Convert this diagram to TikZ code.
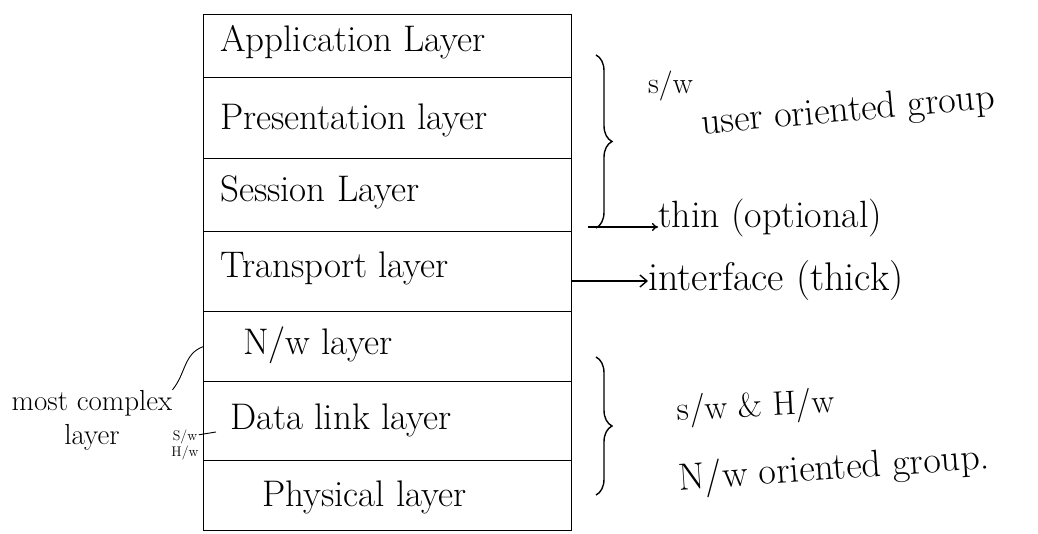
\documentclass[tikz,border=0pt]{standalone}
\usetikzlibrary{decorations.pathreplacing,arrows.meta}
\begin{document}
\begin{tikzpicture}[x=1pt,y=-1pt,
  ink/.style={line width=1.4pt,black},
  pen/.style={line width=0.9pt,black},
  row/.style={draw,ink,minimum width=368pt,inner sep=0pt,anchor=north west},
  lbl/.style={anchor=west,inner sep=0pt,font=\fontsize{37}{40}\selectfont},
  note/.style={inner sep=0pt},
  grp/.style={ink,decorate,decoration={brace,amplitude=16pt}},
]
\useasboundingbox (0,0) rectangle (1038,534);

% the seven layers of the stack
\node[row,minimum height=63pt] (app)   at (203,14)  {};
\node[row,minimum height=81pt] (pres)  at (203,77)  {};
\node[row,minimum height=73pt] (sess)  at (203,158) {};
\node[row,minimum height=80pt] (trans) at (203,231) {};
\node[row,minimum height=70pt] (net)   at (203,311) {};
\node[row,minimum height=79pt] (dl)    at (203,381) {};
\node[row,minimum height=70pt] (phy)   at (203,460) {};

\node[lbl] (tapp)   at (220,42)  {Application Layer};
\node[lbl] (tpres)  at (220,120) {Presentation layer};
\node[lbl] (tsess)  at (220,192) {Session Layer};
\node[lbl] (ttrans) at (220,268) {Transport layer};
\node[lbl] (tnet)   at (243,345) {N/w layer};
\node[lbl] (tdl)    at (230,420) {Data link layer};
\node[lbl] (tphy)   at (262,497) {Physical layer};

% upper group
\coordinate (b1top) at (596,55);
\coordinate (b1bot) at (596,228);
\draw[grp] (b1top) -- (b1bot);
\node[note,anchor=west,font=\fontsize{30}{32}\selectfont] (sw1) at (648,86) {s/w};
\node[note,rotate=5,font=\fontsize{38}{40}\selectfont] (uog) at (848,112) {user oriented group};

\coordinate (b1end) at (588,227);
\node[note,anchor=west,font=\fontsize{38}{40}\selectfont] (thin) at (658,218) {thin (optional)};
\draw[ink,-{To[length=6pt,width=8pt]}] (b1end) -- (b1end -| thin.west);

\coordinate (ifc) at (571,281);
\node[note,anchor=west,font=\fontsize{40}{44}\selectfont] (thick) at (648,281) {interface (thick)};
\draw[ink,-{Straight Barb[length=7pt,width=12pt]}] (ifc) -- (thick.west);

% lower group
\coordinate (b2top) at (596,357);
\coordinate (b2bot) at (596,495);
\draw[grp] (b2top) -- (b2bot);
\node[note,rotate=3,font=\fontsize{34}{36}\selectfont] (swhw) at (756,408) {s/w \& H/w};
\node[note,rotate=4,font=\fontsize{38}{40}\selectfont] (nog) at (834,470) {N/w oriented group.};

% side remarks
\node[note,align=center,font=\fontsize{29}{34}\selectfont] (mc) at (92,420) {most complex\\layer};
\draw[pen] (mc.north east) to[out=50,in=200] (net.west);
\node[note,align=center,font=\fontsize{14}{16}\selectfont] (sh) at (185,445) {S/w\\H/w};
\coordinate (tick) at (216,432);
\draw[pen] (sh.north east) ++(0,5) -- (tick);
\end{tikzpicture}
\end{document}
